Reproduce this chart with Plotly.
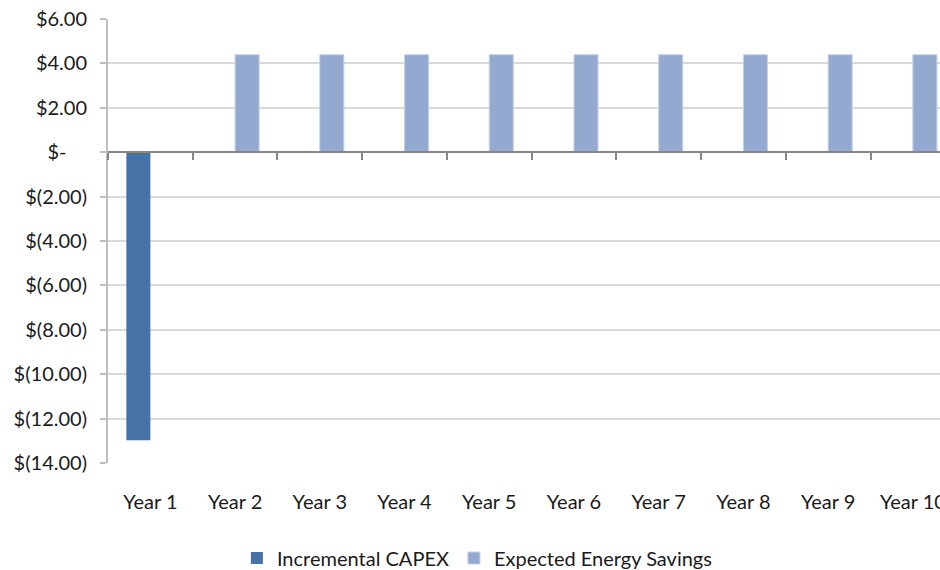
import plotly.graph_objects as go

years = ["Year 1", "Year 2", "Year 3", "Year 4", "Year 5",
         "Year 6", "Year 7", "Year 8", "Year 9", "Year 10"]
capex = [-12.97, 0, 0, 0, 0, 0, 0, 0, 0, 0]
savings = [0, 4.39, 4.39, 4.39, 4.39, 4.39, 4.39, 4.39, 4.39, 4.39]
y_ticks = [6, 4, 2, 0, -2, -4, -6, -8, -10, -12, -14]
y_labels = ["$6.00", "$4.00", "$2.00", "$-\u00a0\u00a0\u00a0\u00a0", "$(2.00)", "$(4.00)",
            "$(6.00)", "$(8.00)", "$(10.00)", "$(12.00)", "$(14.00)"]

y_min, y_max = -14, 6
x_range = [-0.5, 9.32]
FONT = "Lato"
FS = 20

fig = go.Figure()
fig.add_trace(go.Bar(x=years, y=capex, name="Incremental CAPEX",
                     marker=dict(color="#4572a7", line=dict(width=0))))
fig.add_trace(go.Bar(x=years, y=savings, name="Expected Energy Savings",
                     marker=dict(color="#93a9cf", line=dict(color="#c3d0e6", width=1))))
# invisible helper so that the zero-line category axis (x2) is drawn
fig.add_trace(go.Scatter(x=list(range(len(years))), y=[0] * len(years), xaxis="x2",
                         mode="markers", marker=dict(opacity=0), hoverinfo="skip",
                         showlegend=False))

zero_pos = (0 - y_min) / (y_max - y_min)

fig.update_layout(
    width=940, height=570,
    margin=dict(l=108, r=0, t=19, b=107, autoexpand=False),
    paper_bgcolor="white", plot_bgcolor="white",
    font=dict(family=FONT, size=FS, color="#1a1a1a"),
    barmode="group", bargap=0.433, bargroupgap=0,
    showlegend=True,
    legend=dict(orientation="h", x=0.444, xanchor="center",
                yref="container", y=0.021, yanchor="middle",
                font=dict(size=FS), itemwidth=30, traceorder="normal"),
    xaxis=dict(type="category", range=x_range, showgrid=False, showline=False,
               zeroline=False, ticks="", ticklabelstandoff=25,
               tickfont=dict(size=FS)),
    xaxis2=dict(overlaying="x", anchor="free", position=zero_pos, range=x_range,
                showgrid=False, zeroline=False, showline=True, linecolor="#868686",
                linewidth=2, ticks="outside", ticklen=7, tickwidth=2, tickcolor="#868686",
                tick0=0.5, dtick=1, showticklabels=False),
    yaxis=dict(range=[y_min, y_max], tickvals=y_ticks, ticktext=y_labels,
               showgrid=True, gridcolor="#d9d9d9", gridwidth=1.5,
               zeroline=False, showline=True, linecolor="#bfbfbf", linewidth=2,
               ticks="outside", ticklen=6, tickwidth=1.5, tickcolor="#bfbfbf",
               ticklabelstandoff=9, tickfont=dict(size=FS)),
)

fig.write_html("out.html", config={"displayModeBar": False},
               post_script="document.body.style.margin='0';")
